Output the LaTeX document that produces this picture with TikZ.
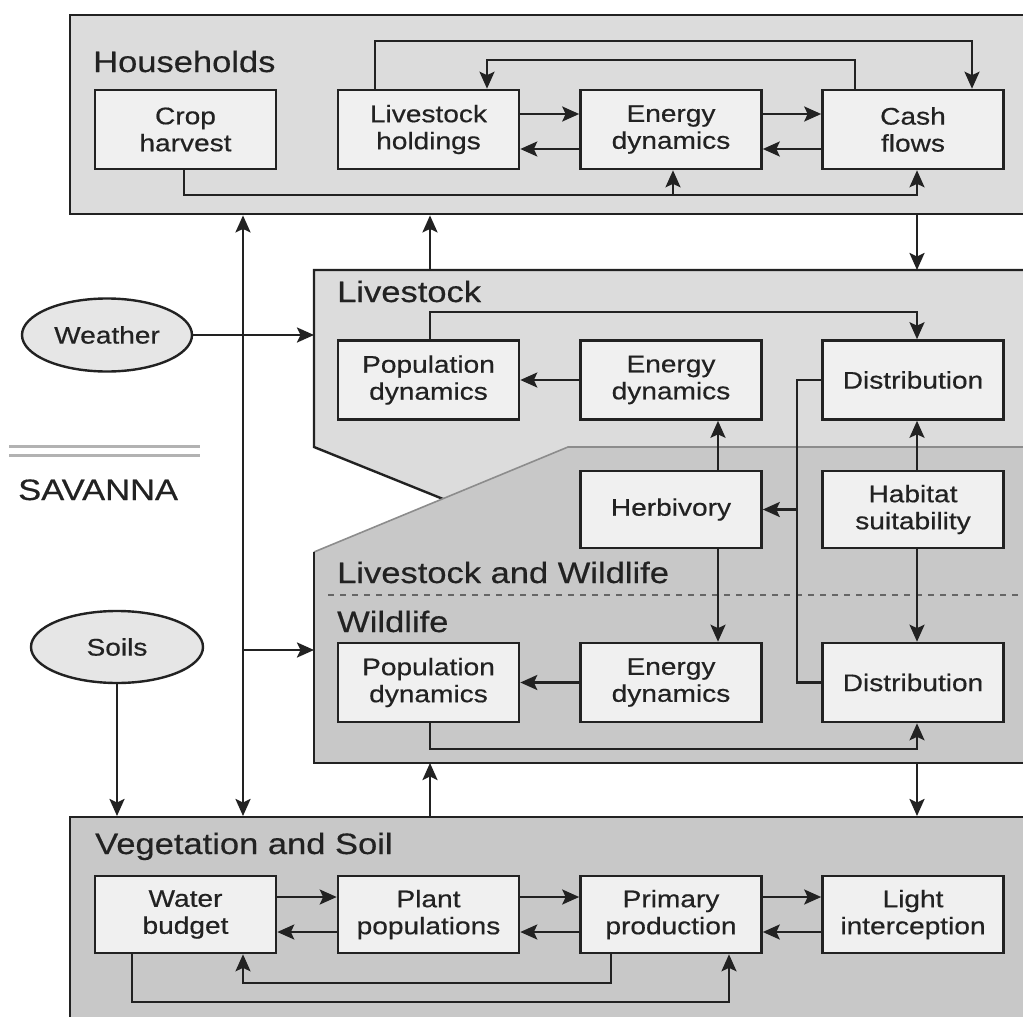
\documentclass[tikz,border=0pt]{standalone}
\usepackage{fontspec}
\setmainfont{Liberation Sans}[FakeStretch=1.17,FakeBold=0.5]
\usetikzlibrary{arrows.meta,shapes.geometric}
\definecolor{boxfill}{HTML}{F0F0F0}
\definecolor{lightpanel}{HTML}{DCDCDC}
\definecolor{darkpanel}{HTML}{C8C8C8}
\definecolor{ellfill}{HTML}{E6E6E6}
\definecolor{inkc}{HTML}{222222}
\newcommand\bxfont{\fontsize{24}{27}\selectfont}
\newcommand\ttlfont{\fontsize{29.5}{33}\selectfont}
\tikzset{
  bx/.style={draw=inkc, line width=2.6pt, fill=boxfill, minimum width=181pt, minimum height=79pt,
    inner sep=0pt, align=center, font=\bxfont, text=inkc},
  ell/.style={ellipse, draw=inkc, line width=2.4pt, fill=ellfill, inner sep=0pt, font=\bxfont, text=inkc},
  ttl/.style={anchor=base west, inner sep=0pt, font=\ttlfont, text=inkc},
  pnl/.style={draw=inkc, line width=2.4pt, anchor=north west, inner sep=0pt},
  conn/.style={line width=2.5pt, draw=inkc},
  arr/.style={conn, -{Stealth[length=17pt,width=15pt,inset=3.5pt]}},
  arrb/.style={conn, {Stealth[length=17pt,width=15pt,inset=3.5pt]}-{Stealth[length=17pt,width=15pt,inset=3.5pt]}},
}
\begin{document}
\begin{tikzpicture}[x=1pt,y=-1pt]
\useasboundingbox[fill=white] (0,0) rectangle (1023,1017);
\clip (0,0) rectangle (1023,1017);

% ---------- panels ----------
\node[pnl, fill=lightpanel, minimum width=1000pt, minimum height=199pt] (hh) at (69,14) {};
\node[pnl, fill=darkpanel, minimum width=1000pt, minimum height=260pt] (vs) at (69,816) {};
\draw[fill=lightpanel, line width=2.4pt, draw=inkc] (314,270) -- (1040,270) -- (1040,530) -- (520,530) -- (314,447) -- cycle;
\fill[darkpanel] (314,552) -- (568,447) -- (1040,447) -- (1040,763) -- (314,763) -- cycle;
\draw[line width=1.6pt, draw=black!45] (314,552) -- (568,447) -- (1040,447);
\draw[line width=2.4pt, draw=inkc] (314,552) -- (314,763) -- (1040,763);
\draw[dashed, dash pattern=on 6pt off 6pt, line width=1.3pt, draw=black!60] (328,595) -- (1023,595);

% ---------- savanna label ----------
\draw[line width=3pt, draw=black!30] (9,446) -- (200,446);
\draw[line width=3pt, draw=black!30] (9,455) -- (200,455);
\node[ttl] (sav) at (18,500) {SAVANNA};

% ---------- titles ----------
\node[ttl] (tHH) at (93,72) {Households};
\node[ttl] (tLS) at (337,302) {Livestock};
\node[ttl] (tLW) at (337,583) {Livestock and Wildlife};
\node[ttl] (tWL) at (337,632) {Wildlife};
\node[ttl] (tVS) at (95,854) {Vegetation and Soil};

% ---------- boxes ----------
\node[bx] (ch) at (185.5,129.5) {Crop\\harvest};
\node[bx] (lh) at (428.5,129.5) {Livestock\\holdings};
\node[bx] (ed) at (671,129.5) {Energy\\dynamics};
\node[bx] (cf) at (913,129.5) {Cash\\flows};

\node[bx] (lp) at (428.5,380) {Population\\dynamics};
\node[bx] (le) at (671,380) {Energy\\dynamics};
\node[bx] (ld) at (913,380) {Distribution};

\node[bx, minimum height=77pt] (hv) at (671,509.5) {Herbivory};
\node[bx, minimum height=77pt] (hs) at (913,509.5) {Habitat\\suitability};

\node[bx] (wp) at (428.5,682.5) {Population\\dynamics};
\node[bx] (we) at (671,682.5) {Energy\\dynamics};
\node[bx] (wd) at (913,682.5) {Distribution};

\node[bx, minimum height=77pt] (wb) at (185.5,914.5) {Water\\budget};
\node[bx, minimum height=77pt] (pl) at (428.5,914.5) {Plant\\populations};
\node[bx, minimum height=77pt] (pp) at (671,914.5) {Primary\\production};
\node[bx, minimum height=77pt] (li) at (913,914.5) {Light\\interception};

\node[ell, minimum width=170pt, minimum height=73pt] (wx) at (107,335) {Weather};
\node[ell, minimum width=172pt, minimum height=72pt] (so) at (117,647) {Soils};

% ---------- households connectors ----------
\draw[arr] (lh.north -| 375,0) |- (972,41) -- (cf.north -| 972,0);
\draw[arr] (cf.north -| 855,0) |- (487,60) -- (lh.north -| 487,0);
\draw[arr] (lh.east |- 0,114) -- (ed.west |- 0,114);
\draw[arr] (ed.west |- 0,149) -- (lh.east |- 0,149);
\draw[arr] (ed.east |- 0,114) -- (cf.west |- 0,114);
\draw[arr] (cf.west |- 0,149) -- (ed.east |- 0,149);
\draw[arr] (ch.south -| 184,0) -- (184,195) -| (cf.south -| 917,0);
\draw[arr] (673,195) -- (ed.south -| 673,0);

% ---------- between panels ----------
\draw[arrb] (hh.south -| 243,0) -- (vs.north -| 243,0);
\draw[arr] (430,270) -- (hh.south -| 430,0);
\draw[arr] (hh.south -| 917,0) -- (917,270);
\draw[arr] (wx.east) -- (314,335);
\draw[arr] (243,650) -- (314,650);
\draw[arr] (so.south) -- (vs.north -| so.south);
\draw[arr] (vs.north -| 430,0) -- (430,763);
\draw[arr] (917,763) -- (vs.north -| 917,0);

% ---------- livestock / wildlife connectors ----------
\draw[arr] (lp.north -| 430,0) |- (917,312) -- (ld.north -| 917,0);
\draw[arr] (le.west) -- (lp.east);
\draw[conn] (ld.west) -| (wd.west -| 797,0) -- (wd.west);
\draw[arr] (797,509.5) -- (hv.east);
\draw[arr] (hv.north -| 718,0) -- (le.south -| 718,0);
\draw[arr] (hs.north -| 917,0) -- (ld.south -| 917,0);
\draw[arr] (hv.south -| 718,0) -- (we.north -| 718,0);
\draw[arr] (hs.south -| 917,0) -- (wd.north -| 917,0);
\draw[arr] (we.west) -- (wp.east);
\draw[arr] (wp.south -| 430,0) -- (430,749) -| (wd.south -| 917,0);

% ---------- vegetation connectors ----------
\draw[arr] (wb.east |- 0,897) -- (pl.west |- 0,897);
\draw[arr] (pl.west |- 0,932) -- (wb.east |- 0,932);
\draw[arr] (pl.east |- 0,897) -- (pp.west |- 0,897);
\draw[arr] (pp.west |- 0,932) -- (pl.east |- 0,932);
\draw[arr] (pp.east |- 0,897) -- (li.west |- 0,897);
\draw[arr] (li.west |- 0,932) -- (pp.east |- 0,932);
\draw[arr] (pp.south -| 611,0) -- (611,983) -| (wb.south -| 243,0);
\draw[arr] (wb.south -| 132,0) -- (132,1002) -| (pp.south -| 729,0);
\end{tikzpicture}
\end{document}
